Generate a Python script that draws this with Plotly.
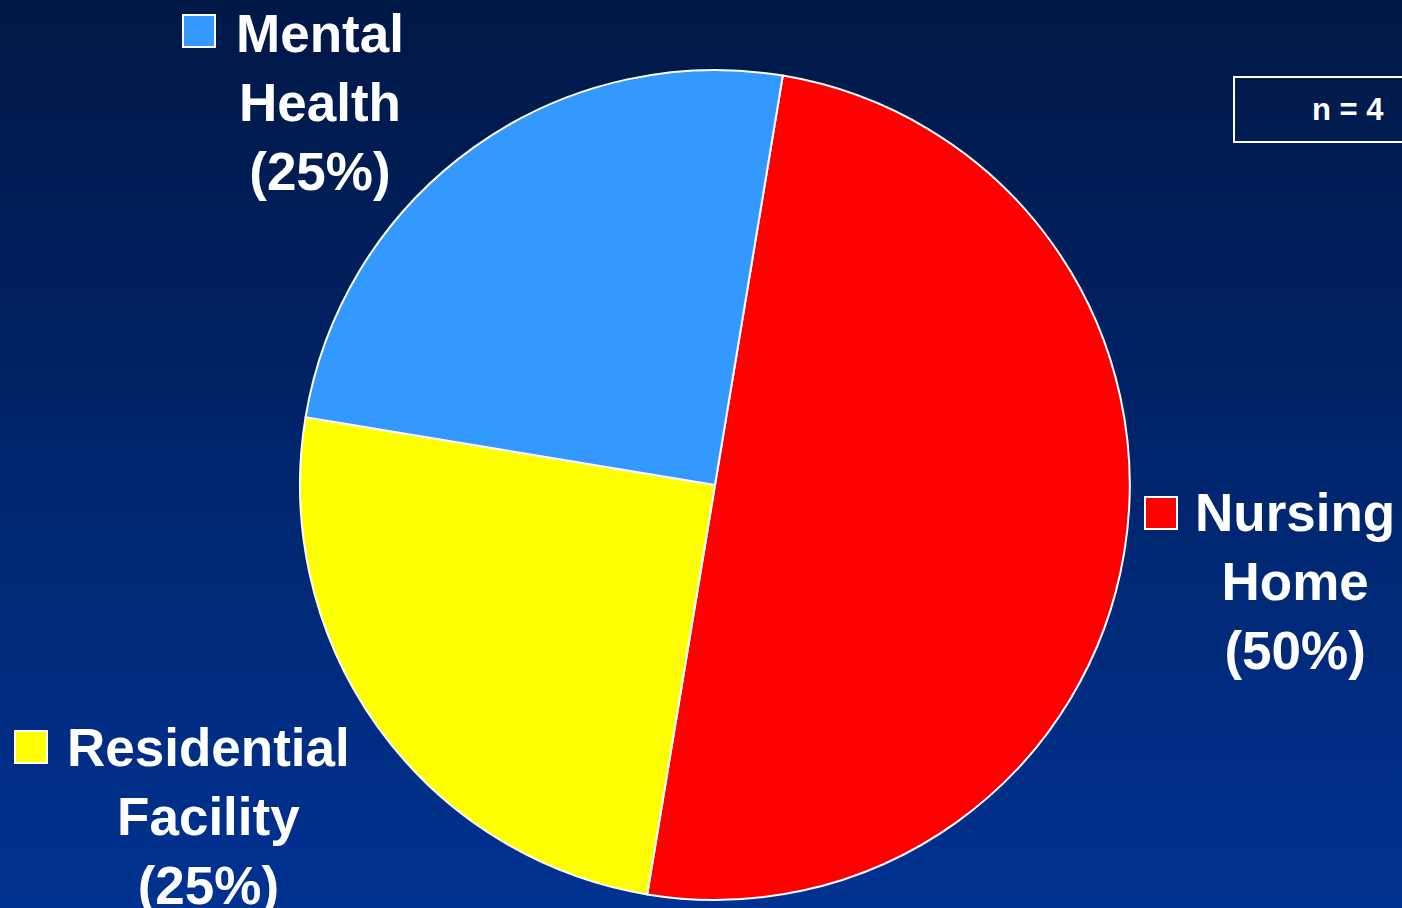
import plotly.graph_objects as go

W, H = 1402, 908

categories = ["Nursing Home", "Residential Facility", "Mental Health"]
values = [50, 25, 25]
colors = ["#ff0000", "#ffff00", "#3399ff"]
label_texts = ["Nursing<br>Home<br>(50%)", "Residential<br>Facility<br>(25%)", "Mental<br>Health<br>(25%)"]
n_text = "n = 4"

cx, cy, r = 715, 485, 415

fig = go.Figure()
fig.add_trace(go.Pie(
    labels=categories, values=values, sort=False, direction="clockwise",
    rotation=9.4, textinfo="none", hoverinfo="label+percent",
    marker=dict(colors=colors, line=dict(color="white", width=2)),
    domain=dict(x=[(cx - r) / W, (cx + r) / W], y=[(H - cy - r) / H, (H - cy + r) / H]),
    showlegend=False,
))

def px(x):
    return x / W

def py(y):
    return 1 - y / H

shapes = []
# gradient background
top = (0, 24, 70)
bot = (0, 50, 145)
N = 91
for i in range(N):
    t = i / (N - 1)
    c = tuple(round(top[k] + (bot[k] - top[k]) * t) for k in range(3))
    shapes.append(dict(type="rect", xref="paper", yref="paper", x0=0, x1=1,
                       y0=py((i + 1) * H / N + 1), y1=py(i * H / N),
                       fillcolor=f"rgb{c}", line=dict(width=0), layer="below"))

# legend squares
squares = [(1145, 497, colors[0]), (15, 731, colors[1]), (183, 15, colors[2])]
for x, y, c in squares:
    shapes.append(dict(type="rect", xref="paper", yref="paper",
                       x0=px(x), x1=px(x + 32), y0=py(y + 32), y1=py(y),
                       fillcolor=c, line=dict(color="white", width=2)))

# n box
shapes.append(dict(type="rect", xref="paper", yref="paper",
                   x0=px(1234), x1=px(1410), y0=py(142), y1=py(77),
                   fillcolor="rgba(0,0,0,0)", line=dict(color="white", width=2)))

font = dict(family="Liberation Sans, Arial, sans-serif", size=53, color="white")
annotations = [
    dict(text="<b>" + label_texts[0] + "</b>", x=px(1295), y=py(481), xanchor="center", yanchor="top"),
    dict(text="<b>" + label_texts[1] + "</b>", x=px(208), y=py(716), xanchor="center", yanchor="top"),
    dict(text="<b>" + label_texts[2] + "</b>", x=px(320), y=py(2), xanchor="center", yanchor="top"),
]
for a in annotations:
    a.update(xref="paper", yref="paper", showarrow=False, align="center", font=font)
annotations.append(dict(text="<b>" + n_text + "</b>", x=px(1386), y=py(110), xref="paper", yref="paper",
                        xanchor="right", yanchor="middle", showarrow=False,
                        font=dict(family="Liberation Sans, Arial, sans-serif", size=31, color="white")))

fig.update_layout(width=W, height=H, margin=dict(l=0, r=0, t=0, b=0),
                  paper_bgcolor="rgb(0,24,70)", plot_bgcolor="rgba(0,0,0,0)",
                  shapes=shapes, annotations=annotations)
fig.write_html("out.html", config={"displayModeBar": False},
               post_script="document.body.style.margin='0';document.body.style.overflow='hidden';")
